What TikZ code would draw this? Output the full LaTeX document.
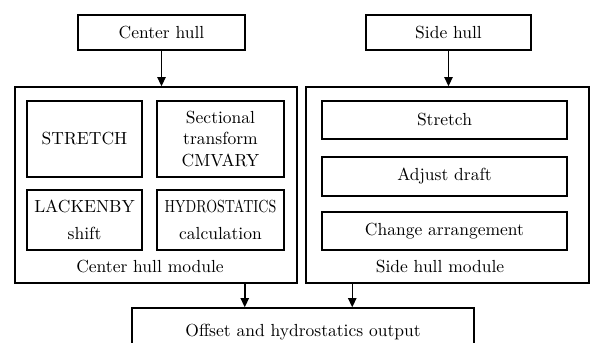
\documentclass[tikz,border=0pt]{standalone}
\usepackage{graphicx}
\usetikzlibrary{arrows.meta}

\begin{document}
\begin{tikzpicture}[x=0.6pt,y=-0.6pt,
  box/.style={draw,line width=0.9pt,inner sep=0pt,align=center,font=\fontsize{10.5}{13}\selectfont},
  flow/.style={-{Triangle[length=5.5pt,width=5pt]},line width=0.9pt}]
\useasboundingbox (0,0) rectangle (590,342);
\clip (0,0) rectangle (590,342);

% inputs
\node [box,minimum width=100.2pt,minimum height=21pt] (chull) at (161.5,32.5) {Center hull};
\node [box,minimum width=99pt,minimum height=21pt] (shull) at (448.5,32.5) {Side hull};

% modules
\node [box,minimum width=169.2pt,minimum height=117.6pt] (cmod) at (156,185) {};
\node [box,minimum width=169.8pt,minimum height=117.6pt] (smod) at (447.5,185) {};

% center hull module
\node [box,minimum width=69pt,minimum height=45.6pt] (stretchA) at (84.5,139) {STRETCH};
\node [box,minimum width=76.2pt,minimum height=45.6pt] (sect) at (220.5,139) {Sectional\\transform\\CMVARY};
\node [box,minimum width=69pt,minimum height=36pt] (lack) at (84.5,220) {LACKENBY\\[3.5pt]shift};
\node [box,minimum width=76.2pt,minimum height=36pt] (hydro) at (220.5,220) {\scalebox{0.8}[1]{HYDROSTATICS}\\[3.5pt]calculation};
\node [font=\fontsize{10.5}{13}\selectfont] (clabel) at (150,267) {Center hull module};

% side hull module
\node [box,minimum width=147pt,minimum height=22.8pt] (stretchB) at (444.5,120) {Stretch};
\node [box,minimum width=147pt,minimum height=23.4pt] (draft) at (444.5,176.5) {Adjust draft};
\node [box,minimum width=147pt,minimum height=22.8pt] (arrange) at (444.5,231) {Change arrangement};
\node [font=\fontsize{10.5}{13}\selectfont] (slabel) at (440,267) {Side hull module};

% output
\node [box,minimum width=205.2pt,minimum height=28.8pt] (out) at (303,332) {Offset and hydrostatics output};

\draw [flow] (chull.south) -- (chull.south |- cmod.north);
\draw [flow] (shull.south) -- (shull.south |- smod.north);
\coordinate (c1) at ([xshift=-31.8pt]cmod.south east);
\coordinate (c2) at ([xshift=28.2pt]smod.south west);
\draw [flow] (c1) -- (c1 |- out.north);
\draw [flow] (c2) -- (c2 |- out.north);
\end{tikzpicture}
\end{document}
